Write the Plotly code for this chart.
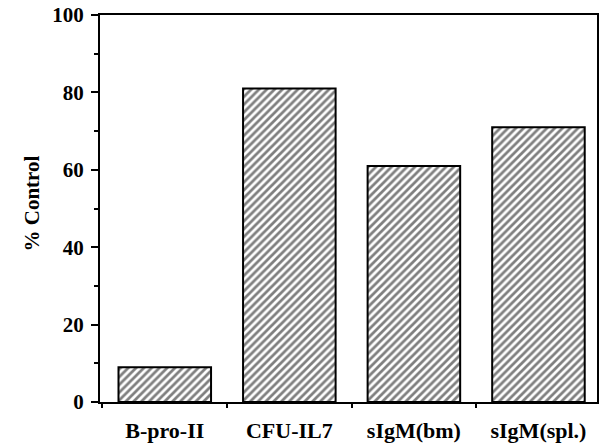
import plotly.graph_objects as go

categories = ["B-pro-II", "CFU-IL7", "sIgM(bm)", "sIgM(spl.)"]
values = [9, 81, 61, 71]
y_tick_vals = [0, 20, 40, 60, 80, 100]
y_title = "% Control"

FONT = "Liberation Serif"

fig = go.Figure()
fig.add_trace(go.Bar(
    x=categories,
    y=values,
    marker=dict(
        color="white",
        line=dict(color="black", width=2),
        pattern=dict(shape="/", fgcolor="black", bgcolor="white", size=5.5, solidity=0.5),
    ),
    width=0.743,
))

fig.update_layout(
    width=602, height=447,
    margin=dict(l=100, r=3, t=13, b=45),
    plot_bgcolor="white", paper_bgcolor="white",
    showlegend=False,
    font=dict(family=FONT, color="black"),
)
fig.update_xaxes(
    range=[-0.52, 3.47],
    showline=True, linecolor="black", linewidth=2, mirror=True,
    ticks="outside", tickson="boundaries", ticklen=4, tickwidth=1.5, tickcolor="black",
    tickfont=dict(family=FONT, size=22, weight="bold", color="black"),
    ticklabelstandoff=8,
    showgrid=False, zeroline=False,
)
fig.update_yaxes(
    range=[0, 100],
    tickvals=y_tick_vals,
    showline=True, linecolor="black", linewidth=2, mirror=True,
    ticks="outside", ticklen=7, tickwidth=1.5, tickcolor="black",
    minor=dict(dtick=10, ticks="outside", ticklen=4, tickwidth=1.5, tickcolor="black", showgrid=False),
    tickfont=dict(family=FONT, size=21, weight="bold", color="black"),
    ticklabelstandoff=3,
    showgrid=False, zeroline=False,
)
fig.add_annotation(
    text=y_title, xref="paper", yref="paper", x=-0.136, y=0.514,
    textangle=-90, showarrow=False, xanchor="center", yanchor="middle",
    font=dict(family=FONT, size=21, weight="bold", color="black"),
)

fig.write_html("out.html")
